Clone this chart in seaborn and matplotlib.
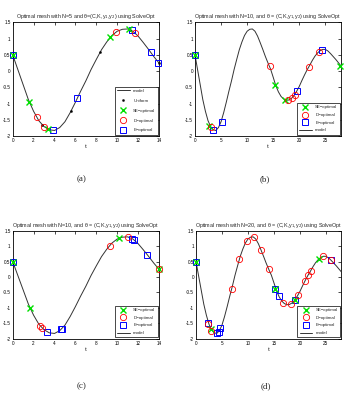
import matplotlib
matplotlib.use("Agg")
import matplotlib.pyplot as plt
from matplotlib.ticker import FormatStrFormatter
import seaborn as sns

# model response (t in steps of 0.5)
model_t = [0.0, 0.5, 1.0, 1.5, 2.0, 2.5, 3.0, 3.5, 4.0, 4.5, 5.0, 5.5, 6.0, 6.5,
           7.0, 7.5, 8.0, 8.5, 9.0, 9.5, 10.0, 10.5, 11.0, 11.5, 12.0, 12.5, 13.0,
           13.5, 14.0, 14.5, 15.0, 15.5, 16.0, 16.5, 17.0, 17.5, 18.0, 18.5, 19.0,
           19.5, 20.0, 20.5, 21.0, 21.5, 22.0, 22.5, 23.0, 23.5, 24.0, 24.5, 25.0,
           25.5, 26.0, 26.5, 27.0, 27.5, 28.0]
model_y = [0.50, 0.04, -0.42, -0.88, -1.24, -1.53, -1.71, -1.81, -1.83, -1.74,
           -1.56, -1.28, -0.96, -0.62, -0.30, 0.05, 0.36, 0.66, 0.90, 1.10, 1.23,
           1.29, 1.30, 1.23, 1.08, 0.88, 0.67, 0.45, 0.25, 0.06, -0.19, -0.45,
           -0.64, -0.78, -0.86, -0.90, -0.89, -0.84, -0.75, -0.62, -0.47, -0.29,
           -0.12, 0.04, 0.18, 0.33, 0.46, 0.56, 0.63, 0.67, 0.67, 0.62, 0.54, 0.45,
           0.36, 0.26, 0.16]

# (a) N=5
uniform_t_a = [0, 2.8, 5.6, 8.4, 11.2, 14]
uniform_y_a = [0.50, -1.67, -1.22, 0.60, 1.28, 0.25]
se_t_a = [0, 1.6, 3.35, 9.3, 11.1]
se_y_a = [0.50, -0.96, -1.78, 1.04, 1.30]
d_t_a = [2.3, 3.0, 9.9, 11.7]
d_y_a = [-1.40, -1.71, 1.22, 1.18]
e_t_a = [0, 3.85, 6.2, 11.4, 13.2, 13.95]
e_y_a = [0.50, -1.83, -0.82, 1.26, 0.58, 0.26]

# (b) N=10
se_t_b = [0, 2.75, 15.4, 17.3, 27.9]
se_y_b = [0.50, -1.68, -0.42, -0.88, 0.17]
d_t_b = [3.0, 14.3, 17.9, 18.6, 19.1, 21.8, 23.7]
d_y_b = [-1.71, 0.15, -0.89, -0.84, -0.75, 0.13, 0.59]
e_t_b = [0, 3.5, 5.1, 19.5, 24.4]
e_y_b = [0.50, -1.82, -1.56, -0.62, 0.66]

# (c) N=10
se_t_c = [0, 1.66, 10.2, 14]
se_y_c = [0.50, -1.02, 1.26, 0.25]
d_t_c = [2.59, 2.78, 9.3, 11.06, 14]
d_y_c = [-1.58, -1.66, 1.02, 1.29, 0.25]
e_t_c = [0, 3.26, 4.6, 4.68, 11.4, 11.6, 12.9]
e_y_c = [0.50, -1.78, -1.69, -1.67, 1.24, 1.21, 0.72]

# (d) N=20
se_t_d = [0, 2.82, 15.3, 19.1, 23.7]
se_y_d = [0.50, -1.69, -0.38, -0.76, 0.59]
d_t_d = [2.4, 2.95, 6.86, 8.33, 9.74, 11.2, 12.56, 13.97, 16.8, 18.2, 19.6,
         20.96, 21.6, 22.05, 24.5, 26.0]
d_y_d = [-1.51, -1.74, -0.38, 0.58, 1.18, 1.28, 0.88, 0.25, -0.83, -0.88, -0.60,
         -0.13, 0.05, 0.19, 0.67, 0.54]
e_t_d = [0, 2.37, 4.1, 4.36, 4.68, 15.3, 15.96, 19.1, 26.0]
e_y_d = [0.50, -1.50, -1.81, -1.78, -1.65, -0.38, -0.62, -0.76, 0.54]

sns.set_style("white")
plt.rcParams["font.family"] = ["Liberation Sans", "DejaVu Sans"]
plt.rcParams["axes.unicode_minus"] = False

STYLES = {
    "Uniform": dict(marker=".", color="black", markersize=3,
                    markeredgecolor="black", markeredgewidth=0.3),
    "SE−optimal": dict(marker="x", color="#00e000", markersize=4.5,
                       markeredgecolor="#00e000", markeredgewidth=1.0),
    "D−optimal": dict(marker="o", color="red", markersize=4.5, markeredgewidth=0.6,
                      markeredgecolor="red", markerfacecolor="none"),
    "E−optimal": dict(marker="s", color="blue", markersize=4.5, markeredgewidth=0.7,
                      markeredgecolor="blue", markerfacecolor="none"),
}

# legends list the series in the order of the original figure
ORDER_A = ["model", "Uniform", "SE−optimal", "D−optimal", "E−optimal"]
ORDER_B = ["SE−optimal", "D−optimal", "E−optimal", "model"]


def draw_panel(ax, xmax, xticks, series, title, order, spacing):
    sns.lineplot(x=model_t, y=model_y, ax=ax, color="#333333", linewidth=0.7,
                 estimator=None, sort=False, label="model")
    for name, t, y in series:
        sns.lineplot(x=t, y=y, ax=ax, linestyle="none", estimator=None,
                     sort=False, label=name, clip_on=False, zorder=3,
                     **STYLES[name])

    ax.set_xlim(0, xmax)
    ax.set_ylim(-2, 1.5)
    ax.set_xticks(xticks)
    ax.set_yticks([-2, -1.5, -1, -0.5, 0, 0.5, 1, 1.5])
    ax.yaxis.set_major_formatter(FormatStrFormatter("%g"))
    ax.tick_params(direction="in", top=True, right=True, length=2, width=0.5,
                   labelsize=3.3, pad=1.5, colors="black")
    for sp in ax.spines.values():
        sp.set_linewidth(0.6)
        sp.set_color("black")
    ax.set_xlabel("t", fontsize=4.5, labelpad=1)
    ax.set_ylabel("")
    ax.set_title(title, fontsize=3.9, pad=3)

    h, l = ax.get_legend_handles_labels()
    lookup = dict(zip(l, h))
    leg = ax.legend([lookup[k] for k in order], order, loc="lower right",
                    fontsize=3.2, frameon=True, fancybox=False, edgecolor="black",
                    framealpha=1, labelspacing=spacing, handlelength=2.8,
                    borderaxespad=0.3, borderpad=0.5)
    leg.get_frame().set_linewidth(0.5)
    leg.set_zorder(5)


fig = plt.figure(figsize=(3.53, 3.93), dpi=100)

ax_a = fig.add_axes([0.036, 0.654, 0.4144, 0.2888])
ax_b = fig.add_axes([0.5524, 0.654, 0.4136, 0.2888])
ax_c = fig.add_axes([0.036, 0.1382, 0.4144, 0.2748])
ax_d = fig.add_axes([0.5552, 0.1382, 0.4122, 0.2748])

draw_panel(ax_a, 14, range(0, 15, 2),
           [("Uniform", uniform_t_a, uniform_y_a),
            ("E−optimal", e_t_a, e_y_a),
            ("SE−optimal", se_t_a, se_y_a),
            ("D−optimal", d_t_a, d_y_a)],
           "Optimal mesh with N=5 and θ=(C,K,y$_1$,y$_2$) using SolveOpt",
           ORDER_A, 1.3)
draw_panel(ax_b, 28, range(0, 30, 5),
           [("E−optimal", e_t_b, e_y_b),
            ("SE−optimal", se_t_b, se_y_b),
            ("D−optimal", d_t_b, d_y_b)],
           "Optimal mesh with N=10, and θ = (C,K,y$_1$,y$_2$) using SolveOpt",
           ORDER_B, 0.8)
draw_panel(ax_c, 14, range(0, 15, 2),
           [("E−optimal", e_t_c, e_y_c),
            ("SE−optimal", se_t_c, se_y_c),
            ("D−optimal", d_t_c, d_y_c)],
           "Optimal mesh with N=10, and θ = (C,K,y$_1$,y$_2$) using SolveOpt",
           ORDER_B, 0.8)
draw_panel(ax_d, 28, range(0, 30, 5),
           [("E−optimal", e_t_d, e_y_d),
            ("SE−optimal", se_t_d, se_y_d),
            ("D−optimal", d_t_d, d_y_d)],
           "Optimal mesh with N=20, and θ = (C,K,y$_1$,y$_2$) using SolveOpt",
           ORDER_B, 0.8)

caption_font = dict(fontsize=6.5, family=["Liberation Serif", "DejaVu Serif"],
                    ha="center", va="center")
fig.text(82 / 353, 1 - 179 / 393, "(a)", **caption_font)
fig.text(265 / 353, 1 - 179 / 393, "(b)", **caption_font)
fig.text(82 / 353, 1 - 386 / 393, "(c)", **caption_font)
fig.text(266 / 353, 1 - 386 / 393, "(d)", **caption_font)

fig.savefig("out.png", dpi=100)
